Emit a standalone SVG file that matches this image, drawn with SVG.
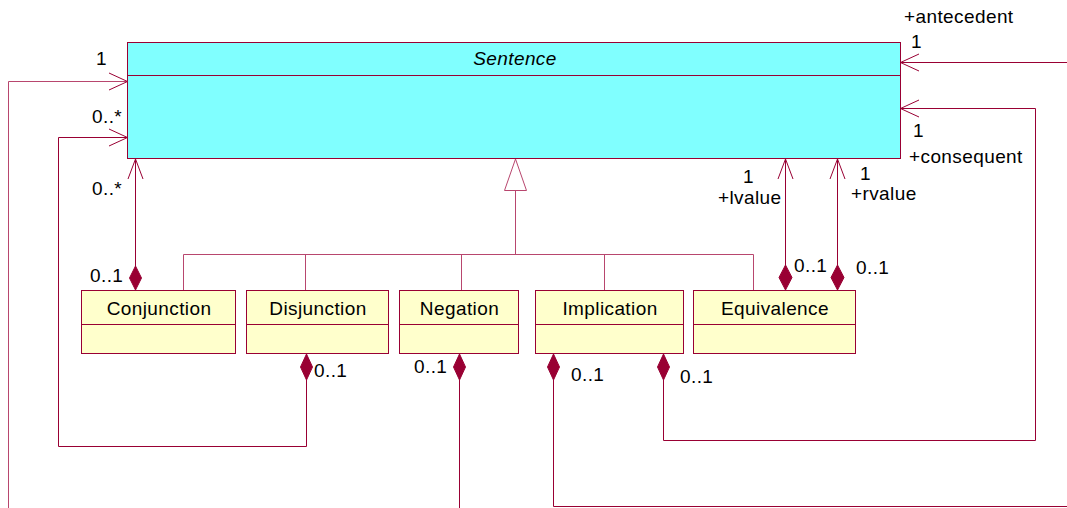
<svg xmlns="http://www.w3.org/2000/svg" width="1067" height="508" viewBox="0 0 1067 508">
  <style>
    text { font-family: "Liberation Sans", Arial, sans-serif; fill: #000; letter-spacing: 0.4px; }
    .cls { stroke: #990033; stroke-width: 1; }
    .sentence { fill: #80FFFF; }
    .sub { fill: #FFFFCC; }
    .name { font-size: 19px; text-anchor: middle; }
    .lbl { font-size: 19px; }
    .assoc { fill: none; stroke: #990033; stroke-width: 1; }
    .gen { fill: none; stroke: #B8466E; stroke-width: 1; }
    .dia { fill: #990033; stroke: #990033; stroke-width: 1; }
  </style>

  <!-- classes -->
  <g id="sentence">
    <rect class="cls sentence" x="127.5" y="42.5" width="773" height="116"/>
    <line class="cls" x1="127.5" y1="75.5" x2="900.5" y2="75.5"/>
    <text class="name" x="515" y="65" font-style="italic">Sentence</text>
  </g>
  <g id="conjunction">
    <rect class="cls sub" x="81.5" y="290.5" width="154" height="63"/>
    <line class="cls" x1="81.5" y1="324.5" x2="235.5" y2="324.5"/>
    <text class="name" x="159" y="315">Conjunction</text>
  </g>
  <g id="disjunction">
    <rect class="cls sub" x="246.5" y="290.5" width="142" height="63"/>
    <line class="cls" x1="246.5" y1="324.5" x2="388.5" y2="324.5"/>
    <text class="name" x="318" y="315">Disjunction</text>
  </g>
  <g id="negation">
    <rect class="cls sub" x="399.5" y="290.5" width="119" height="63"/>
    <line class="cls" x1="399.5" y1="324.5" x2="518.5" y2="324.5"/>
    <text class="name" x="459.5" y="315">Negation</text>
  </g>
  <g id="implication">
    <rect class="cls sub" x="535.5" y="290.5" width="148" height="63"/>
    <line class="cls" x1="535.5" y1="324.5" x2="683.5" y2="324.5"/>
    <text class="name" x="610" y="315">Implication</text>
  </g>
  <g id="equivalence">
    <rect class="cls sub" x="693.5" y="290.5" width="162" height="63"/>
    <line class="cls" x1="693.5" y1="324.5" x2="855.5" y2="324.5"/>
    <text class="name" x="775" y="315">Equivalence</text>
  </g>

  <!-- connectors -->
  <g id="connectors">
    <!-- generalization tree -->
    <polygon class="gen" points="515.5,159 504.5,190.5 526.5,190.5" style="fill:#fff"/>
    <path class="gen" d="M515.5 190.5 V254.5 M183.5 254.5 H753.5 M183.5 254.5 V290 M305.5 254.5 V290 M461.5 254.5 V290 M604.5 254.5 V290 M753.5 254.5 V290"/>

    <!-- Conjunction to Sentence -->
    <path class="assoc" d="M135.5 266 V159 M128 179 L135.5 159 L143 179"/>
    <polygon class="dia" points="135.5,266 141.5,278 135.5,290 129.5,278"/>

    <!-- Equivalence lvalue / rvalue -->
    <path class="assoc" d="M785.5 265 V159 M778 179 L785.5 159 L793 179"/>
    <polygon class="dia" points="785.5,265 792,277.5 785.5,290 779,277.5"/>
    <path class="assoc" d="M837.5 265 V159 M830 179 L837.5 159 L845 179"/>
    <polygon class="dia" points="837.5,265 844,277.5 837.5,290 831,277.5"/>

    <!-- Disjunction loop back to Sentence -->
    <path class="assoc" d="M306.5 380 V446.5 H58.5 V137.5 H127.5 M109 129 L127.5 137.5 L109 146"/>
    <polygon class="dia" points="306.5,354 312.5,367 306.5,380 300.5,367"/>

    <!-- Negation -->
    <path class="assoc" d="M459.5 380 V508"/>
    <polygon class="dia" points="459.5,354 465.5,367 459.5,380 453.5,367"/>

    <!-- outer left line into Sentence -->
    <path class="gen" d="M8.5 508 V81.5 H127.5"/>
    <path class="assoc" d="M109 73 L127.5 81.5 L109 90"/>

    <!-- Implication antecedent -->
    <path class="assoc" d="M553.5 380 V506.5 H1067"/>
    <polygon class="dia" points="553.5,354 559.5,367 553.5,380 547.5,367"/>
    <path class="assoc" d="M1067 62.5 H900.5 M919 54 L900.5 62.5 L919 71"/>

    <!-- Implication consequent -->
    <path class="assoc" d="M663.5 380 V440.5 H1035.5 V108.5 H900.5 M919 100 L900.5 108.5 L919 117"/>
    <polygon class="dia" points="663.5,354 669.5,367 663.5,380 657.5,367"/>

    <!-- multiplicities and role names -->
    <text class="lbl" x="96" y="65">1</text>
    <text class="lbl" x="92" y="123">0..*</text>
    <text class="lbl" x="92" y="195">0..*</text>
    <text class="lbl" x="90" y="282">0..1</text>
    <text class="lbl" x="314" y="377">0..1</text>
    <text class="lbl" x="414" y="373">0..1</text>
    <text class="lbl" x="571" y="381">0..1</text>
    <text class="lbl" x="680" y="383">0..1</text>
    <text class="lbl" x="904" y="23">+antecedent</text>
    <text class="lbl" x="911" y="48">1</text>
    <text class="lbl" x="913" y="137">1</text>
    <text class="lbl" x="909" y="163">+consequent</text>
    <text class="lbl" x="743" y="183">1</text>
    <text class="lbl" x="718" y="204">+lvalue</text>
    <text class="lbl" x="860" y="180">1</text>
    <text class="lbl" x="851" y="200">+rvalue</text>
    <text class="lbl" x="794" y="272">0..1</text>
    <text class="lbl" x="856" y="274">0..1</text>
  </g>
</svg>
